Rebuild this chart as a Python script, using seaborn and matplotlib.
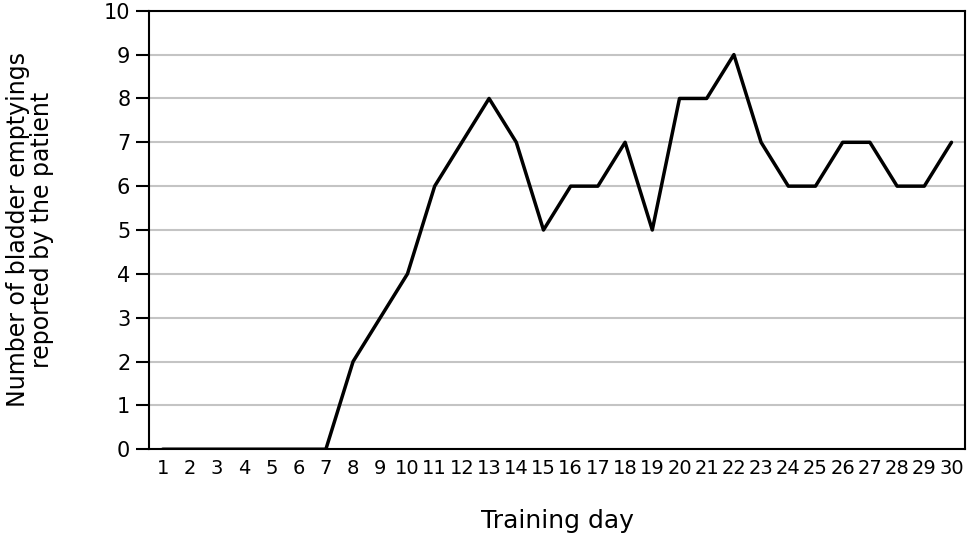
import pandas as pd
import matplotlib
matplotlib.use("Agg")
import matplotlib.pyplot as plt
import seaborn as sns

# bladder emptyings per training day
days = list(range(1, 31))
emptyings = [0, 0, 0, 0, 0, 0, 0, 2, 3, 4, 6, 7, 8, 7, 5,
             6, 6, 7, 5, 8, 8, 9, 7, 6, 6, 7, 7, 6, 6, 7]
y_ticks = list(range(0, 11))

df = pd.DataFrame({"day": days, "count": emptyings})

sns.set_theme(style="white")
plt.rcParams["font.family"] = ["DejaVu Sans"]
plt.rcParams["text.color"] = "black"
plt.rcParams["axes.labelcolor"] = "black"
plt.rcParams["xtick.color"] = "black"
plt.rcParams["ytick.color"] = "black"

fig = plt.figure(figsize=(9.68, 5.38), dpi=100)
ax = fig.add_axes([0.154, 0.165, 0.843, 0.815])

sns.lineplot(data=df, x="day", y="count", color="black", linewidth=2.5, ax=ax)

ax.set_xlim(0.5, 30.5)
ax.set_ylim(0, 10)
ax.set_xticks(days)
ax.set_xticklabels([str(d) for d in days], fontsize=14)
ax.set_yticks(y_ticks)
ax.set_yticklabels([str(t) for t in y_ticks], fontsize=15)
ax.tick_params(axis="x", length=0, pad=7)
ax.tick_params(axis="y", length=9.5, width=1.5, color="black", pad=4, left=True)
ax.yaxis.grid(True, color="#c4c4c4", linewidth=1.5)
ax.set_axisbelow(True)

for side in ["left", "bottom", "right", "top"]:
    ax.spines[side].set_visible(True)
    ax.spines[side].set_color("black")
    ax.spines[side].set_linewidth(1.5)

ax.set_xlabel("Training day", fontsize=18, labelpad=22)
ax.set_ylabel("Number of bladder emptyings\nreported by the patient", fontsize=17,
              labelpad=36, linespacing=1.0)

fig.savefig("out.png", dpi=100)
